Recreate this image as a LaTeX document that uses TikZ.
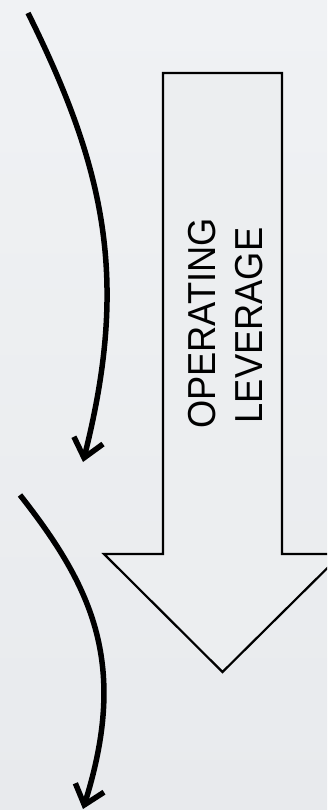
\documentclass[tikz,border=0pt]{standalone}
\usepackage{fontspec}
\newfontfamily\arialish{Liberation Sans}
\usetikzlibrary{arrows.meta}
\definecolor{bgtop}{HTML}{F0F2F4}
\definecolor{bgbot}{HTML}{E8EAED}
\definecolor{bgmid}{HTML}{ECEEF0}
\tikzset{
  curvearrow/.style={line width=5.5pt, line cap=butt,
    -{Straight Barb[length=18pt,width=30pt,line width=5.5pt]}},
  bigarrow/.style={line width=2.2pt, fill=bgmid, line join=miter},
  label/.style={rotate=90, inner sep=0pt, font=\arialish\fontsize{39}{46}\selectfont},
}
\begin{document}
\begin{tikzpicture}[x=1pt,y=-1pt]
  \useasboundingbox (0,0) rectangle (327,810);
  \clip (0,0) rectangle (327,810);
  \shade[top color=bgtop, bottom color=bgbot] (0,0) rectangle (327,810);
  % big arrow
  \coordinate (s1) at (163,73);
  \coordinate (s2) at (282,73);
  \coordinate (s3) at (282,554);
  \coordinate (h1) at (341.5,554);
  \coordinate (tip) at (222.5,672);
  \coordinate (h2) at (104,554);
  \coordinate (s4) at (163,554);
  \draw[bigarrow] (s1) -- (s2) -- (s3) -- (h1) -- (tip) -- (h2) -- (s4) -- cycle;
  % text
  \node[label] (op) at (202.5,323.5) {\scalebox{0.93}[1]{OPERATING}};
  \node[label] (lev) at (249,325.5) {\scalebox{0.93}[1]{LEVERAGE}};
  % curved arrows
  \coordinate (a1s) at (28,13);
  \coordinate (a1e) at (83,462);
  \coordinate (a2s) at (20,495);
  \coordinate (a2e) at (83,809);
  \draw[curvearrow] (a1s) .. controls (108,174) and (128,283) .. (a1e);
  \draw[curvearrow] (a2s) .. controls (94,589) and (128,665.5) .. (a2e);
\end{tikzpicture}
\end{document}
